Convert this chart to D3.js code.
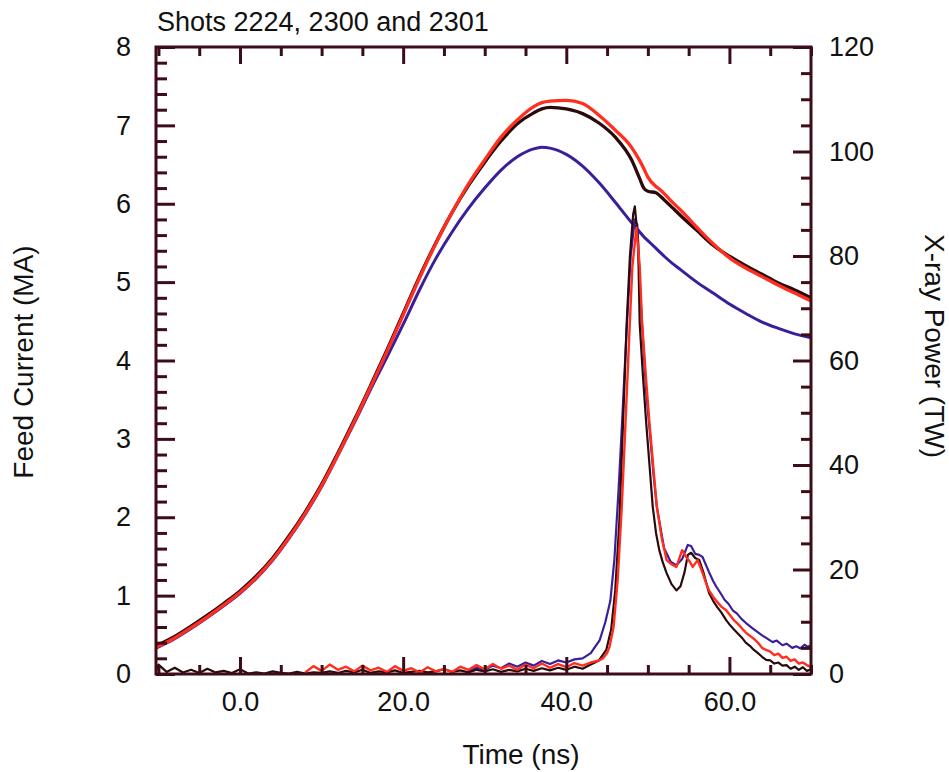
<!DOCTYPE html>
<html><head><meta charset="utf-8">
<script src="https://cdn.jsdelivr.net/npm/d3@7/dist/d3.min.js"></script>
<style>
html,body{margin:0;padding:0;background:#fff;}
text{font-family:"Liberation Sans",Arial,Helvetica,sans-serif;fill:#111;}
</style></head>
<body><svg id="c" width="949" height="772"></svg>
<script>
// ---------- data ----------
const title = "Shots 2224, 2300 and 2301";
const xLabel = "Time (ns)";
const yLeftLabel = "Feed Current (MA)";
const yRightLabel = "X-ray Power (TW)";
const xTicks = [0, 20, 40, 60];
const yLeftTicks = [0,1,2,3,4,5,6,7,8];
const yRightTicks = [0,20,40,60,80,100,120];
const shotColors = {s2224:"#2b0a0c", s2300:"#ff2e1f", s2301:"#3a1f9c"};

// Feed current (MA)
const currentT = [-10.3,-8,-6,-4,-2,0,2,4,6,8,10,12,14,16,18,20,22,24,26,28,30,32,34,36,37,38,40,42,44,46,48,49,49.5,50,51,51.5,52,53,54,56,58,60,62,64,66,68,70];
const currentBlack = [0.36,0.48,0.61,0.75,0.90,1.06,1.25,1.48,1.76,2.07,2.42,2.82,3.24,3.68,4.13,4.60,5.07,5.50,5.89,6.23,6.53,6.80,7.02,7.16,7.21,7.23,7.21,7.15,7.03,6.85,6.56,6.32,6.20,6.16,6.14,6.10,6.05,5.95,5.85,5.66,5.47,5.33,5.21,5.10,4.99,4.90,4.80];
const currentRed   = [0.34,0.46,0.59,0.73,0.88,1.04,1.23,1.46,1.74,2.05,2.40,2.80,3.22,3.66,4.11,4.58,5.05,5.49,5.89,6.25,6.56,6.85,7.07,7.24,7.29,7.31,7.32,7.28,7.13,6.94,6.72,6.55,6.45,6.34,6.22,6.18,6.13,6.02,5.92,5.70,5.49,5.31,5.18,5.07,4.96,4.86,4.76];
const currentBlue  = [0.33,0.45,0.58,0.72,0.87,1.03,1.22,1.45,1.73,2.04,2.39,2.79,3.20,3.63,4.04,4.46,4.90,5.30,5.64,5.94,6.20,6.43,6.60,6.70,6.72,6.71,6.63,6.48,6.27,6.02,5.76,5.64,5.58,5.53,5.43,5.38,5.33,5.24,5.16,5.00,4.86,4.72,4.60,4.49,4.41,4.34,4.29];

// X-ray power (TW)
const xrayBlackT = [-10.3,-10,-9,-8,-7,-6,-5,-4,-3,-2,-1,0,1,2,3,4,5,6,7,8,9,10,11,12,13,14,15,16,17,18,19,20,21,22,23,24,25,26,27,28,29,30,31,32,33,34,35,36,37,38,39,40,41,42,43,44,44.9,45.5,46,46.5,46.8,47.1,47.4,47.8,48.2,48.4,48.8,49.0,49.4,49.8,50.2,50.6,51.0,51.4,51.8,52.3,52.9,53.5,54.0,54.5,54.9,55.3,55.8,56.3,56.8,57.5,58,58.5,59,59.6,60,60.5,61,61.5,62,62.5,63,63.5,64,64.5,65,65.5,66,66.5,67,67.5,68,68.5,69,69.5,70];
const xrayBlack  = [0.6,1.8,0.4,1.2,0.3,0.8,0.2,1.0,0.3,0.6,0.2,0.9,0.1,0.3,0.1,0.5,0.2,0.1,0.4,0.1,0.3,0.2,0.5,0.2,0.6,0.3,0.8,0.2,0.5,0.3,0.7,0.2,0.4,0.6,0.3,0.5,0.9,0.4,0.7,0.3,0.8,0.5,0.9,0.4,0.8,0.5,1.0,0.6,1.1,0.7,1.2,0.8,1.4,1.0,1.8,2.6,4.6,8.5,16,29,41.5,54,67,80,88,89.5,83,67,57,48,40,32,27,23.7,21.5,19.3,17.2,16,16.8,19.5,22.8,23.2,22.2,21.8,19.5,15.5,14,12.8,11.8,10.3,9.5,8.6,7.8,7.0,6.0,5.4,4.6,4.0,3.3,2.7,2.6,2.0,2.2,1.6,1.7,1.0,1.4,0.8,1.3,0.6,0.9];

const xrayRedT = [8,9,10,11,12,13,14,15,16,17,18,19,20,21,22,23,24,25,26,27,28,29,30,31,32,33,34,35,36,37,38,39,40,41,42,43,44,44.5,45,45.3,45.8,46.3,46.8,47.2,47.7,48.1,48.6,49.0,49.3,49.8,50.2,50.7,51.1,51.7,52.3,52.9,53.5,54.2,54.7,55.1,55.5,56.1,56.6,57.0,57.5,58.0,58.5,59.0,59.6,60.1,60.6,61.1,61.6,62.1,62.6,63.1,63.6,64.0,64.5,65.0,65.5,66.0,66.5,67.0,67.5,68.0,68.5,69.0,69.5,70];
const xrayRed  = [0.3,1.5,0.6,1.8,0.8,1.4,0.5,1.6,0.7,1.2,0.4,1.5,0.6,1.1,0.3,1.3,0.5,1.0,0.4,1.4,0.8,1.7,0.9,1.9,1.0,1.6,0.8,1.8,1.1,2.0,1.2,1.9,1.3,2.1,1.6,2.2,2.6,3.0,4.0,5.2,9,18,32,46,64,78,85.4,78,67,56,48,39,32,26,21.8,21.0,20.5,23.7,22.4,21.6,20.5,21.8,19.8,18.0,16,14.8,13.8,12.9,12.2,11.2,10.2,9.5,8.6,7.8,7.2,6.6,5.8,5.0,4.6,4.3,3.6,3.9,3.1,3.3,2.5,2.8,2.0,2.2,1.7,1.3];

const xrayBlueT = [28,29,30,31,32,33,34,35,36,37,38,39,40,41,42,43,44.1,44.8,45.4,45.9,46.4,46.9,47.4,47.9,48.4,48.7,49.1,49.4,49.8,50.2,50.7,51.1,52.0,52.8,53.5,54.2,54.9,55.3,55.8,56.3,56.7,57.5,58.0,58.4,58.9,59.4,59.9,60.4,60.9,61.5,62.0,62.8,63.3,64.0,64.5,65.3,65.8,66.5,67.0,67.7,68.2,68.7,69.2,69.6,70];
const xrayBlue  = [0.5,1.2,0.8,1.6,1.1,2.0,1.4,2.2,1.6,2.5,1.9,2.6,2.2,2.8,3.0,4.0,6.5,10,14,22,35,50,66,80,87,86,72,64,54,47,38,32,24,21.5,20.8,22,24.7,24.5,23,22.8,22.4,19.5,17.8,16.7,15.5,14.2,13.4,12.2,11.6,10.5,9.8,8.8,8.2,7.4,6.9,6.1,6.4,5.5,5.8,5.0,5.3,4.9,5.6,5.2,5.5];

// ---------- layout ----------
const svg = d3.select("#c");
const L = 156, R = 811, T = 47, B = 674;
const x = d3.scaleLinear().domain([-10.3, 70]).range([L, R]);
const yL = d3.scaleLinear().domain([0, 8]).range([B, T]);
const yR = d3.scaleLinear().domain([0, 120]).range([B, T]);
const frameColor = "#3c0d19";

svg.append("defs").append("clipPath").attr("id","clip")
  .append("rect").attr("x",L).attr("y",T).attr("width",R-L).attr("height",B-T);

const plot = svg.append("g").attr("clip-path","url(#clip)");

function draw(ts, vs, ys, color, w, curve){
  const pts = ts.map((t,i)=>[t, vs[i]]);
  const line = d3.line().x(d=>x(d[0])).y(d=>ys(d[1])).curve(curve);
  plot.append("path").attr("d", line(pts)).attr("fill","none")
    .attr("stroke", color).attr("stroke-width", w).attr("stroke-linejoin","round");
}
// current traces
draw(currentT, currentBlue, yL, shotColors.s2301, 3, d3.curveMonotoneX);
draw(currentT, currentBlack, yL, shotColors.s2224, 3.3, d3.curveMonotoneX);
draw(currentT, currentRed, yL, shotColors.s2300, 3.3, d3.curveMonotoneX);
// x-ray traces
draw(xrayBlueT, xrayBlue, yR, shotColors.s2301, 2.2, d3.curveLinear);
draw(xrayBlackT, xrayBlack, yR, shotColors.s2224, 2.2, d3.curveLinear);
draw(xrayRedT, xrayRed, yR, shotColors.s2300, 2.4, d3.curveLinear);

// ---------- axes ----------
function styleAxis(g){
  g.select(".domain").remove();
  g.selectAll(".tick line").attr("stroke", frameColor).attr("stroke-width", 3);
  g.selectAll(".tick text").style("font-size","27px").attr("fill","#111");
}
const xMinor = d3.range(-10, 71, 5).filter(v=>!xTicks.includes(v));
const yLMinor = d3.range(0, 8.01, 0.2).map(v=>+v.toFixed(1)).filter(v=>!yLeftTicks.includes(v));
const yRMinor = d3.range(0, 121, 5).filter(v=>!yRightTicks.includes(v));

svg.append("g").attr("transform",`translate(0,${B})`)
  .call(d3.axisBottom(x).tickValues(xTicks).tickSizeInner(-17).tickSizeOuter(0).tickPadding(18).tickFormat(d3.format(".1f"))).call(styleAxis);
svg.append("g").attr("transform",`translate(0,${B})`)
  .call(d3.axisBottom(x).tickValues(xMinor).tickSizeInner(-9).tickSizeOuter(0).tickFormat("")).call(styleAxis);
svg.append("g").attr("transform",`translate(0,${T})`)
  .call(d3.axisTop(x).tickValues(xTicks).tickSizeInner(-17).tickSizeOuter(0).tickFormat("")).call(styleAxis);
svg.append("g").attr("transform",`translate(0,${T})`)
  .call(d3.axisTop(x).tickValues(xMinor).tickSizeInner(-9).tickSizeOuter(0).tickFormat("")).call(styleAxis);

svg.append("g").attr("transform",`translate(${L},0)`)
  .call(d3.axisLeft(yL).tickValues(yLeftTicks).tickSizeInner(-19).tickSizeOuter(0).tickPadding(25).tickFormat(d3.format("d"))).call(styleAxis);
svg.append("g").attr("transform",`translate(${L},0)`)
  .call(d3.axisLeft(yL).tickValues(yLMinor).tickSizeInner(-11).tickSizeOuter(0).tickFormat("")).call(styleAxis);

svg.append("g").attr("transform",`translate(${R},0)`)
  .call(d3.axisRight(yR).tickValues(yRightTicks).tickSizeInner(-18).tickSizeOuter(0).tickPadding(18).tickFormat(d3.format("d"))).call(styleAxis);
svg.append("g").attr("transform",`translate(${R},0)`)
  .call(d3.axisRight(yR).tickValues(yRMinor).tickSizeInner(-10).tickSizeOuter(0).tickFormat("")).call(styleAxis);

// frame
svg.append("rect").attr("x",L).attr("y",T).attr("width",R-L).attr("height",B-T)
  .attr("fill","none").attr("stroke",frameColor).attr("stroke-width",3);

// ---------- text ----------
svg.append("text").attr("x",157).attr("y",31).style("font-size","27px").text(title);
svg.append("text").attr("x",521).attr("y",764).attr("text-anchor","middle").style("font-size","28px").text(xLabel);
svg.append("text").attr("transform","translate(33,362) rotate(-90)").attr("text-anchor","middle").style("font-size","28px").text(yLeftLabel);
svg.append("text").attr("transform","translate(925,346) rotate(90)").attr("text-anchor","middle").style("font-size","28px").text(yRightLabel);
</script></body></html>
